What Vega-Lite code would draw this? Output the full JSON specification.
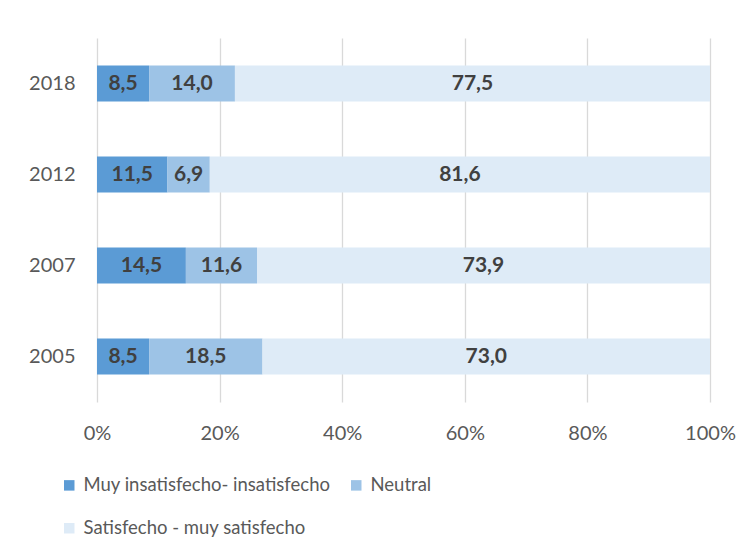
{
  "$schema": "https://vega.github.io/schema/vega-lite/v6.json",
  "width": 613,
  "height": 364,
  "autosize": {"type": "none"},
  "padding": {"left": 97, "top": 38, "right": 43, "bottom": 152},
  "background": "white",
  "config": {
    "locale": {"number": {"decimal": ",", "thousands": ".", "grouping": [3], "currency": ["", "€"]}},
    "view": {"stroke": null},
    "font": "Lato"
  },
  "data": {
    "values": [
      {"year": "2018", "cat": "Muy insatisfecho- insatisfecho", "value": 8.5},
      {"year": "2018", "cat": "Neutral", "value": 14.0},
      {"year": "2018", "cat": "Satisfecho - muy satisfecho", "value": 77.5},
      {"year": "2012", "cat": "Muy insatisfecho- insatisfecho", "value": 11.5},
      {"year": "2012", "cat": "Neutral", "value": 6.9},
      {"year": "2012", "cat": "Satisfecho - muy satisfecho", "value": 81.6},
      {"year": "2007", "cat": "Muy insatisfecho- insatisfecho", "value": 14.5},
      {"year": "2007", "cat": "Neutral", "value": 11.6},
      {"year": "2007", "cat": "Satisfecho - muy satisfecho", "value": 73.9},
      {"year": "2005", "cat": "Muy insatisfecho- insatisfecho", "value": 8.5},
      {"year": "2005", "cat": "Neutral", "value": 18.5},
      {"year": "2005", "cat": "Satisfecho - muy satisfecho", "value": 73.0}
    ]
  },
  "transform": [
    {"stack": "value", "groupby": ["year"], "sort": [{"field": "cat"}], "as": ["v0", "v1"]},
    {"calculate": "(datum.v0 + datum.v1) / 2", "as": "mid"}
  ],
  "encoding": {
    "y": {
      "field": "year", "type": "nominal",
      "sort": ["2018", "2012", "2007", "2005"],
      "scale": {"paddingInner": 0.604, "paddingOuter": 0.302},
      "axis": {"title": null, "domain": false, "ticks": false, "labelFontSize": 20, "labelColor": "#595959", "labelPadding": 22}
    }
  },
  "layer": [
    {
      "mark": {"type": "bar"},
      "encoding": {
        "x": {
          "field": "v0", "type": "quantitative",
          "scale": {"domain": [0, 100], "nice": false},
          "axis": {"title": null, "values": [0, 20, 40, 60, 80, 100], "labelExpr": "datum.value + '%'", "labelAlign": "center", "labelFlush": false, "domain": false, "ticks": false, "grid": true, "gridColor": "#d9d9d9", "gridWidth": 1.3, "labelFontSize": 20, "labelColor": "#595959", "labelPadding": 21}
        },
        "x2": {"field": "v1"},
        "color": {
          "field": "cat", "type": "nominal",
          "scale": {"domain": ["Muy insatisfecho- insatisfecho", "Neutral", "Satisfecho - muy satisfecho"], "range": ["#5b9bd5", "#9dc3e6", "#deebf7"]},
          "legend": {
            "title": null, "orient": "none", "legendX": -37, "legendY": 438,
            "direction": "horizontal", "columns": 2, "symbolType": "square", "symbolSize": 110, "symbolStrokeWidth": 0,
            "labelFontSize": 18.5, "labelColor": "#595959", "labelOffset": 5,
            "columnPadding": 16, "rowPadding": 24, "labelLimit": 400
          }
        }
      }
    },
    {
      "mark": {"type": "text", "fontWeight": "bold", "fontSize": 21, "color": "#404040"},
      "encoding": {
        "x": {"field": "mid", "type": "quantitative"},
        "text": {"field": "value", "type": "quantitative", "format": ".1f"}
      }
    }
  ]
}
